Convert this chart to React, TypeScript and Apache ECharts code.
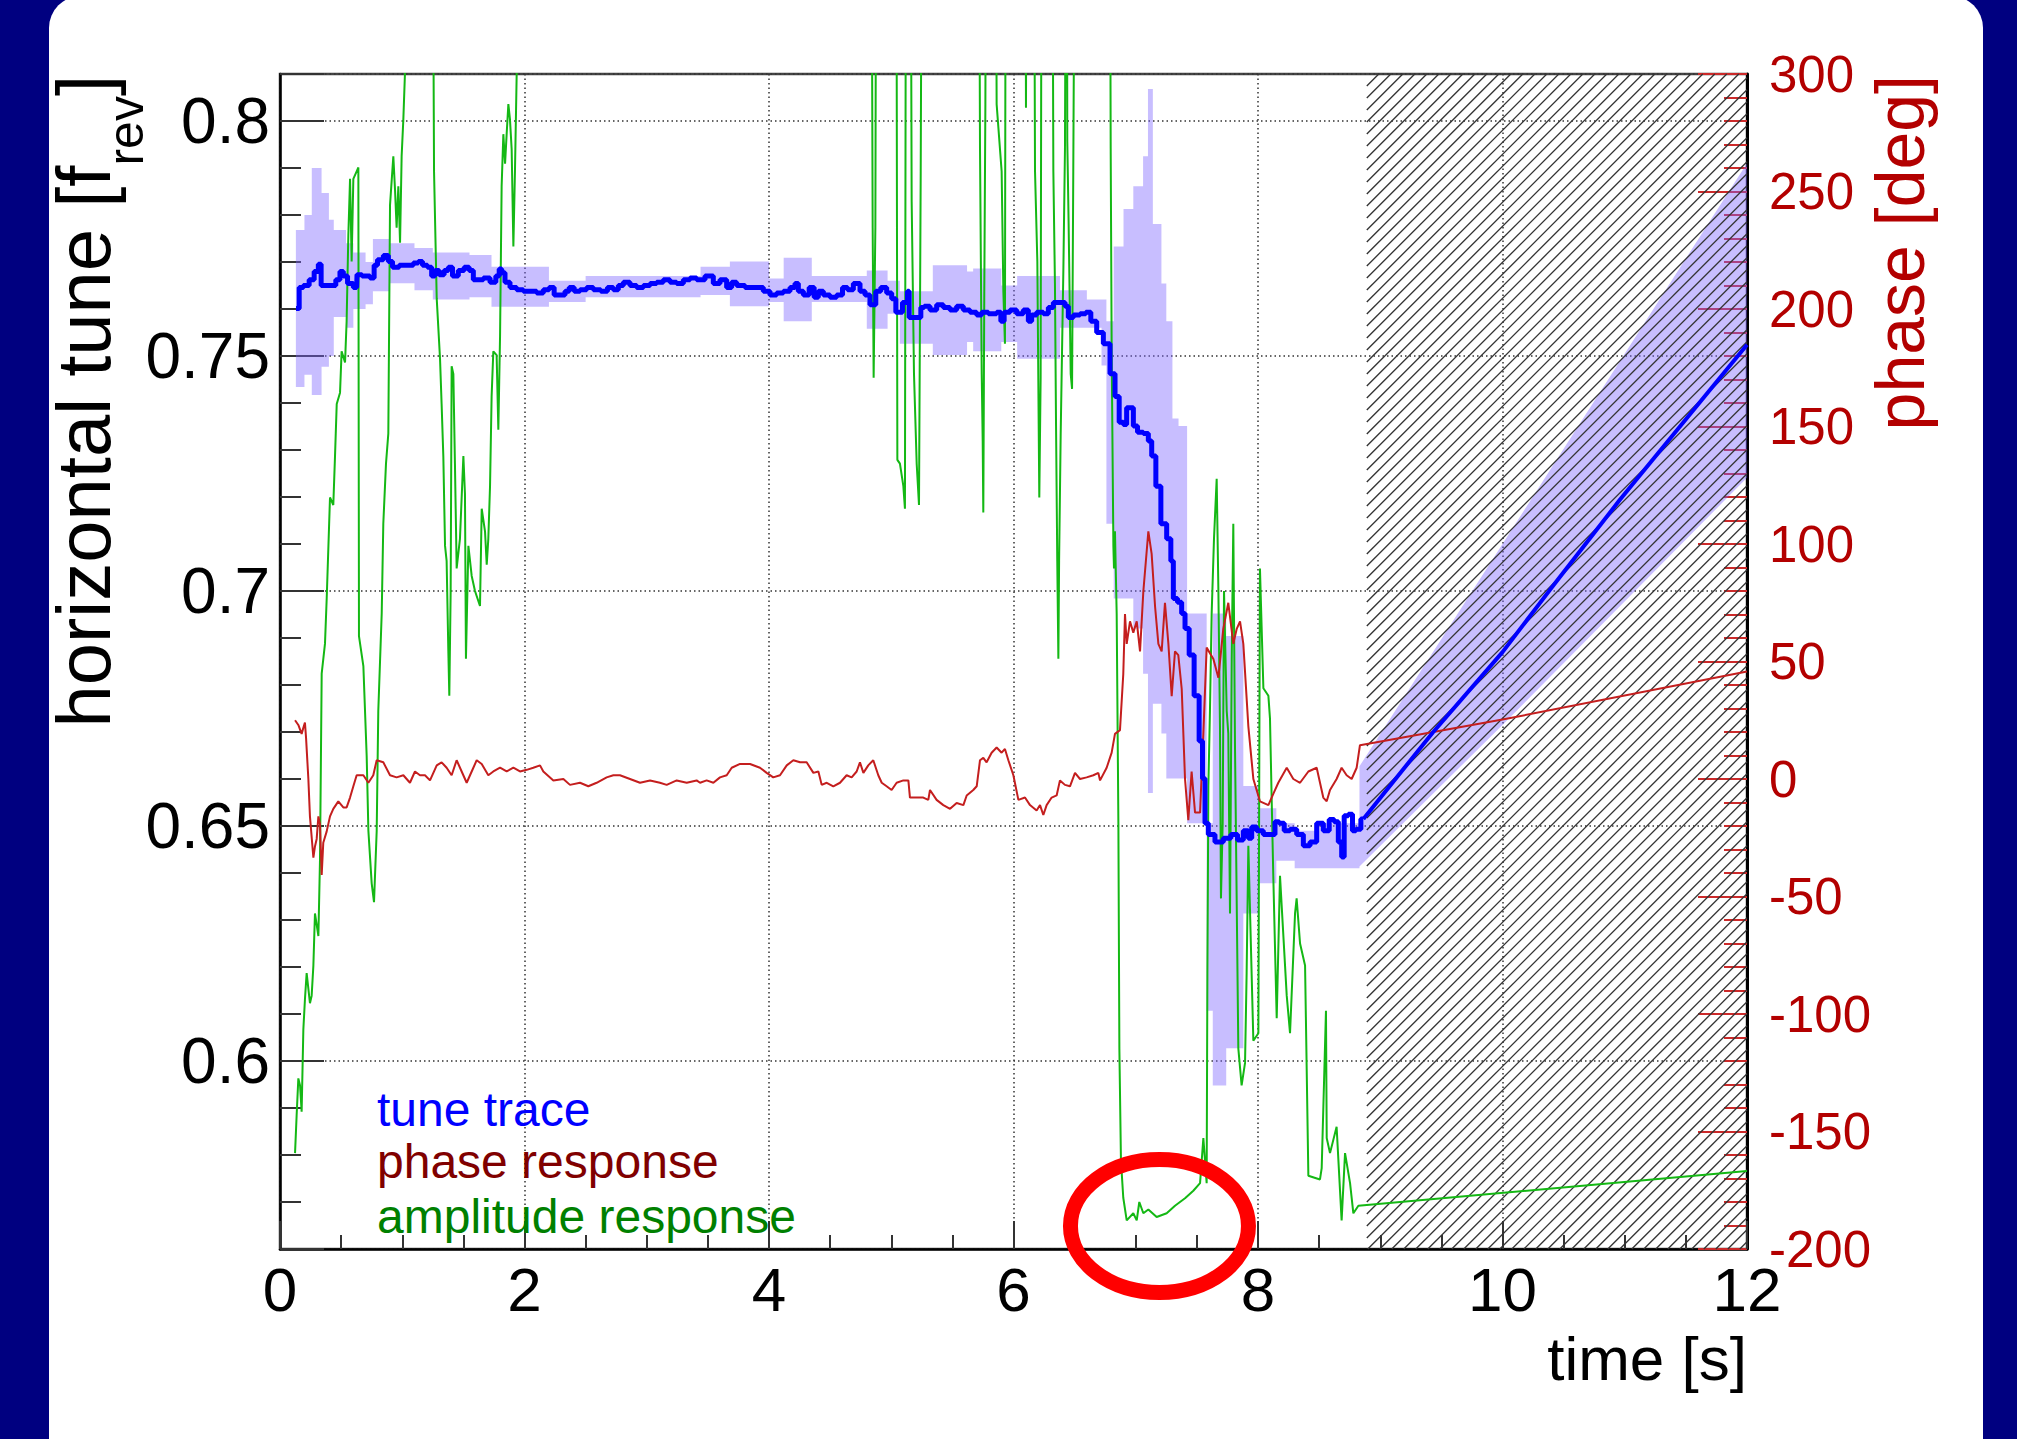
import React, { useEffect, useRef } from 'react';
import * as echarts from 'echarts';

const W = 2017;
const H = 1439;
const FONT = '"Liberation Sans", Arial, Helvetica, sans-serif';

// ---------------- data ----------------
// time [s], horizontal tune [f_rev] (measured)
const tuneTrace: [number, number][] = [
  [0.131, 0.7601], [0.150, 0.7601], [0.164, 0.7646], [0.218, 0.7650], [0.259, 0.7662], [0.300, 0.7680],
  [0.327, 0.7695], [0.346, 0.7650], [0.436, 0.7650], [0.477, 0.7662], [0.504, 0.7680], [0.532, 0.7670],
  [0.573, 0.7654], [0.627, 0.7646], [0.633, 0.7673], [0.709, 0.7670], [0.763, 0.7666], [0.777, 0.7693],
  [0.818, 0.7705], [0.873, 0.7714], [0.900, 0.7701], [0.941, 0.7689], [1.009, 0.7693], [1.063, 0.7693],
  [1.118, 0.7698], [1.145, 0.7701], [1.186, 0.7693], [1.227, 0.7689], [1.254, 0.7670], [1.282, 0.7682],
  [1.322, 0.7673], [1.363, 0.7682], [1.391, 0.7689], [1.431, 0.7670], [1.486, 0.7682], [1.527, 0.7689],
  [1.568, 0.7682], [1.595, 0.7662], [1.636, 0.7662], [1.691, 0.7666], [1.745, 0.7657], [1.786, 0.7670],
  [1.800, 0.7685], [1.827, 0.7677], [1.854, 0.7657], [1.909, 0.7646], [1.963, 0.7641], [2.018, 0.7638],
  [2.072, 0.7638], [2.127, 0.7634], [2.181, 0.7641], [2.222, 0.7646], [2.263, 0.7630], [2.318, 0.7630],
  [2.345, 0.7638], [2.386, 0.7646], [2.427, 0.7638], [2.481, 0.7641], [2.536, 0.7646], [2.590, 0.7641],
  [2.658, 0.7638], [2.699, 0.7646], [2.754, 0.7641], [2.781, 0.7650], [2.836, 0.7657], [2.890, 0.7650],
  [2.945, 0.7646], [3.000, 0.7650], [3.054, 0.7654], [3.108, 0.7657], [3.163, 0.7662], [3.217, 0.7657],
  [3.272, 0.7654], [3.327, 0.7662], [3.381, 0.7666], [3.436, 0.7662], [3.517, 0.7670], [3.572, 0.7654],
  [3.626, 0.7662], [3.681, 0.7646], [3.708, 0.7657], [3.763, 0.7650], [3.845, 0.7646], [3.926, 0.7646],
  [3.981, 0.7638], [4.035, 0.7630], [4.090, 0.7634], [4.145, 0.7638], [4.199, 0.7646], [4.226, 0.7654],
  [4.254, 0.7638], [4.308, 0.7630], [4.349, 0.7646], [4.390, 0.7625], [4.417, 0.7638], [4.472, 0.7630],
  [4.526, 0.7625], [4.581, 0.7630], [4.622, 0.7646], [4.663, 0.7641], [4.717, 0.7654], [4.772, 0.7638],
  [4.799, 0.7630], [4.853, 0.7609], [4.894, 0.7638], [4.935, 0.7646], [4.990, 0.7634], [5.017, 0.7622],
  [5.058, 0.7593], [5.126, 0.7614], [5.140, 0.7638], [5.153, 0.7582], [5.235, 0.7582], [5.249, 0.7603],
  [5.290, 0.7606], [5.344, 0.7598], [5.399, 0.7609], [5.453, 0.7603], [5.508, 0.7598], [5.562, 0.7606],
  [5.617, 0.7598], [5.671, 0.7593], [5.726, 0.7587], [5.753, 0.7593], [5.835, 0.7590], [5.890, 0.7593],
  [5.903, 0.7574], [5.944, 0.7593], [5.999, 0.7598], [6.053, 0.7590], [6.108, 0.7598], [6.135, 0.7574],
  [6.162, 0.7587], [6.217, 0.7593], [6.271, 0.7590], [6.299, 0.7603], [6.353, 0.7614], [6.408, 0.7614],
  [6.435, 0.7606], [6.462, 0.7582], [6.517, 0.7587], [6.571, 0.7590], [6.612, 0.7593], [6.653, 0.7574],
  [6.708, 0.7550], [6.762, 0.7526], [6.817, 0.7462], [6.844, 0.7414], [6.885, 0.7359], [6.912, 0.7354],
  [6.939, 0.7390], [6.967, 0.7390], [6.994, 0.7351], [7.035, 0.7338], [7.089, 0.7335], [7.117, 0.7319],
  [7.144, 0.7287], [7.185, 0.7223], [7.226, 0.7143], [7.280, 0.7111], [7.294, 0.7064], [7.321, 0.6984],
  [7.362, 0.6976], [7.389, 0.6952], [7.417, 0.6920], [7.457, 0.6864], [7.498, 0.6777], [7.539, 0.6681],
  [7.553, 0.6601], [7.580, 0.6506], [7.607, 0.6482], [7.689, 0.6466], [7.744, 0.6474], [7.812, 0.6482],
  [7.853, 0.6470], [7.907, 0.6490], [7.935, 0.6474], [7.962, 0.6498], [8.016, 0.6490], [8.071, 0.6482],
  [8.125, 0.6482], [8.153, 0.6509], [8.194, 0.6506], [8.235, 0.6490], [8.289, 0.6493], [8.344, 0.6482],
  [8.398, 0.6458], [8.453, 0.6466], [8.507, 0.6506], [8.562, 0.6490], [8.603, 0.6514], [8.643, 0.6509],
  [8.671, 0.6466], [8.698, 0.6434], [8.712, 0.6522], [8.766, 0.6525], [8.780, 0.6490], [8.821, 0.6493],
  [8.862, 0.6515],
];
// time [s], horizontal tune [f_rev] (extrapolated)
const tuneExtrapolated: [number, number][] = [
  [8.862, 0.6515], [9.430, 0.6699], [10.000, 0.6870], [10.390, 0.7003], [10.960, 0.7194], [12.000, 0.7524],
];

// tune uncertainty band: [time start, low, high] (each step lasts until the next time)
const tuneBandSteps: [number, number, number][] = [
  [0.13, 0.7434, 0.7768], [0.20, 0.7460, 0.7800], [0.26, 0.7417, 0.7900], [0.34, 0.7477, 0.7847],
  [0.40, 0.7500, 0.7790], [0.44, 0.7583, 0.7768], [0.54, 0.7560, 0.7740], [0.60, 0.7600, 0.7720],
  [0.70, 0.7610, 0.7700], [0.76, 0.7638, 0.7749], [0.90, 0.7655, 0.7740], [1.10, 0.7640, 0.7730],
  [1.25, 0.7620, 0.7720], [1.55, 0.7625, 0.7715], [1.73, 0.7605, 0.7690], [2.20, 0.7615, 0.7660],
  [2.50, 0.7625, 0.7670], [3.44, 0.7630, 0.7690], [3.68, 0.7606, 0.7701], [4.00, 0.7615, 0.7665],
  [4.12, 0.7574, 0.7709], [4.35, 0.7615, 0.7670], [4.80, 0.7558, 0.7682], [4.97, 0.7590, 0.7660],
  [5.07, 0.7526, 0.7638], [5.34, 0.7502, 0.7693], [5.62, 0.7530, 0.7680], [5.67, 0.7510, 0.7686],
  [5.90, 0.7530, 0.7650], [6.03, 0.7494, 0.7670], [6.38, 0.7560, 0.7640], [6.60, 0.7560, 0.7620],
  [6.72, 0.7480, 0.7620], [6.76, 0.7143, 0.7574], [6.82, 0.6984, 0.7733], [6.90, 0.6984, 0.7813],
  [6.98, 0.6920, 0.7861], [7.06, 0.6824, 0.7925], [7.10, 0.6570, 0.8068], [7.14, 0.6760, 0.7781],
  [7.21, 0.6697, 0.7654], [7.25, 0.6601, 0.7574], [7.30, 0.6601, 0.7367], [7.35, 0.6601, 0.7351],
  [7.42, 0.6506, 0.6952], [7.58, 0.6107, 0.6506], [7.63, 0.5948, 0.6952], [7.74, 0.6027, 0.6904],
  [7.88, 0.6314, 0.6585], [8.00, 0.6378, 0.6538], [8.15, 0.6426, 0.6506], [8.30, 0.6410, 0.6490],
  [8.50, 0.6410, 0.6506], [8.83, 0.6414, 0.6627],
];
// extrapolated band: [time, low, high]
const tuneBandExtrapolated: [number, number, number][] = [
  [8.83, 0.6414, 0.6627], [10.0, 0.6715, 0.7100], [12.0, 0.7241, 0.7910],
];

// time [s], phase [deg]
const phaseResponse: [number, number][] = [
  [0.123, 25.0], [0.150, 23.0], [0.177, 19.2], [0.191, 21.8], [0.204, 24.0], [0.213, 17.6], [0.232, 0.0],
  [0.245, -15.9], [0.273, -33.5], [0.286, -28.7], [0.300, -25.5], [0.314, -15.9], [0.327, -19.1],
  [0.341, -40.8], [0.354, -27.1], [0.382, -22.3], [0.409, -15.9], [0.436, -12.7], [0.477, -9.5],
  [0.518, -12.1], [0.545, -12.1], [0.573, -7.9], [0.600, -3.1], [0.627, 1.6], [0.682, 1.6], [0.723, -1.6],
  [0.763, 1.6], [0.791, 8.0], [0.845, 7.1], [0.900, 1.6], [0.954, 0.7], [1.009, 1.6], [1.063, -1.6],
  [1.104, 3.2], [1.145, 1.6], [1.186, 1.6], [1.227, -0.6], [1.282, 5.8], [1.322, 7.1], [1.363, 4.8],
  [1.404, 1.6], [1.445, 8.0], [1.486, 3.2], [1.527, -1.6], [1.568, 3.2], [1.609, 8.0], [1.650, 6.4],
  [1.704, 1.6], [1.745, 3.2], [1.800, 4.8], [1.854, 3.2], [1.909, 4.8], [1.963, 3.2], [2.018, 3.9],
  [2.072, 4.8], [2.127, 5.8], [2.154, 3.2], [2.236, -0.6], [2.318, 0.0], [2.372, -2.5], [2.454, -1.6],
  [2.522, -3.1], [2.590, -1.6], [2.672, 0.7], [2.727, 1.6], [2.781, 1.6], [2.863, 0.0], [2.945, -1.6],
  [3.027, -0.6], [3.108, -1.6], [3.163, -2.5], [3.245, -0.6], [3.327, -1.6], [3.408, -0.6], [3.436, -1.6],
  [3.490, -0.6], [3.545, -1.6], [3.599, 0.7], [3.654, 1.6], [3.695, 4.8], [3.763, 6.4], [3.845, 6.4],
  [3.926, 4.8], [3.981, 2.6], [4.035, 0.7], [4.090, 1.6], [4.145, 5.8], [4.199, 8.0], [4.254, 7.1],
  [4.308, 7.1], [4.363, 2.6], [4.404, 3.2], [4.431, -2.5], [4.472, -1.6], [4.526, -3.1], [4.581, -1.6],
  [4.635, 1.6], [4.676, 0.7], [4.717, 3.2], [4.744, 7.1], [4.772, 2.6], [4.812, 5.8], [4.853, 8.0],
  [4.894, 1.6], [4.922, -1.6], [4.962, -3.1], [5.003, -4.7], [5.044, -1.6], [5.099, -0.6], [5.140, -0.6],
  [5.153, -7.9], [5.208, -7.9], [5.262, -7.9], [5.303, -8.9], [5.317, -4.7], [5.371, -8.9], [5.426, -11.1],
  [5.481, -12.7], [5.535, -10.2], [5.590, -11.1], [5.617, -7.0], [5.671, -4.7], [5.699, -3.1], [5.726, 8.0],
  [5.753, 9.0], [5.780, 7.1], [5.821, 11.2], [5.862, 13.4], [5.903, 11.2], [5.930, 12.8], [5.958, 8.0],
  [5.999, 1.6], [6.040, -8.9], [6.094, -7.9], [6.135, -11.1], [6.189, -13.4], [6.217, -11.1],
  [6.244, -15.3], [6.271, -11.1], [6.312, -7.9], [6.353, -7.0], [6.380, -0.6], [6.421, -2.5],
  [6.462, -3.1], [6.503, 2.6], [6.544, 0.0], [6.598, 0.7], [6.653, 1.6], [6.694, 2.6], [6.708, -0.6],
  [6.762, 4.8], [6.803, 11.2], [6.830, 19.2], [6.871, 20.8], [6.898, 44.7], [6.912, 70.2], [6.926, 57.5],
  [6.953, 67.1], [6.980, 62.3], [7.008, 67.1], [7.035, 54.3], [7.062, 79.8], [7.103, 105.4], [7.130, 95.8],
  [7.158, 73.4], [7.185, 57.5], [7.212, 54.3], [7.239, 75.0], [7.267, 57.5], [7.294, 35.2], [7.321, 54.3],
  [7.348, 52.7], [7.376, 38.3], [7.403, 0.0], [7.430, -17.5], [7.457, 3.2], [7.485, -14.3], [7.526, -14.3],
  [7.553, 19.2], [7.580, 55.9], [7.635, 51.1], [7.676, 43.1], [7.716, 63.9], [7.757, 75.0], [7.798, 57.5],
  [7.826, 63.9], [7.853, 67.1], [7.880, 57.5], [7.921, 22.4], [7.962, 0.0], [8.016, -9.5], [8.085, -11.1],
  [8.125, -6.3], [8.166, -1.6], [8.235, 4.8], [8.289, 0.0], [8.344, -1.6], [8.412, 3.2], [8.480, 4.8],
  [8.534, -7.9], [8.562, -9.5], [8.589, -4.7], [8.643, 0.0], [8.684, 4.8], [8.725, 1.6], [8.766, 0.0],
  [8.807, 4.8], [8.834, 14.4], [10.0, 25.3], [12.0, 45.7],
];

// time [s], amplitude response (drawn in tune-axis units; 0.90 = off scale above the frame)
const amplitudeResponse: [number, number][] = [
  [0.123, 0.5804], [0.136, 0.5884], [0.150, 0.5963], [0.164, 0.5948], [0.177, 0.5892], [0.191, 0.6067],
  [0.204, 0.6131], [0.218, 0.6187], [0.245, 0.6123], [0.259, 0.6139], [0.273, 0.6203], [0.286, 0.6314],
  [0.314, 0.6266], [0.327, 0.6426], [0.341, 0.6824], [0.368, 0.6888], [0.382, 0.6984], [0.409, 0.7199],
  [0.436, 0.7183], [0.450, 0.7287], [0.464, 0.7398], [0.491, 0.7422], [0.504, 0.7510], [0.532, 0.7486],
  [0.545, 0.7574], [0.559, 0.7757], [0.573, 0.7877], [0.586, 0.7701], [0.600, 0.7877], [0.627, 0.7893],
  [0.641, 0.7901], [0.646, 0.6904], [0.682, 0.6840], [0.709, 0.6649], [0.723, 0.6490], [0.750, 0.6378],
  [0.769, 0.6338], [0.791, 0.6490], [0.804, 0.6745], [0.832, 0.6952], [0.845, 0.7143], [0.867, 0.7271],
  [0.886, 0.7335], [0.900, 0.7821], [0.927, 0.7925], [0.941, 0.7853], [0.954, 0.7773], [0.968, 0.7861],
  [0.982, 0.7741], [0.995, 0.7925], [1.009, 0.8004], [1.022, 0.8100], [1.036, 0.90], [1.241, 0.90],
  [1.260, 0.7893], [1.282, 0.7622], [1.309, 0.7494], [1.322, 0.7398], [1.336, 0.7287], [1.350, 0.7096],
  [1.363, 0.7064], [1.377, 0.6872], [1.385, 0.6777], [1.396, 0.6999], [1.404, 0.7478], [1.418, 0.7462],
  [1.431, 0.7271], [1.445, 0.7048], [1.472, 0.7111], [1.500, 0.7287], [1.513, 0.7207], [1.521, 0.6856],
  [1.541, 0.7096], [1.568, 0.7032], [1.595, 0.7000], [1.636, 0.6968], [1.650, 0.7175], [1.677, 0.7127],
  [1.691, 0.7056], [1.704, 0.7111], [1.718, 0.7223], [1.731, 0.7414], [1.745, 0.7510], [1.772, 0.7502],
  [1.786, 0.7343], [1.800, 0.7542], [1.813, 0.7861], [1.827, 0.7972], [1.841, 0.7909], [1.854, 0.7972],
  [1.868, 0.8036], [1.881, 0.8004], [1.895, 0.7940], [1.909, 0.7733], [1.922, 0.7893], [1.936, 0.8100],
  [1.950, 0.90], [4.832, 0.90], [4.848, 0.7773], [4.856, 0.7454], [4.870, 0.7773], [4.881, 0.90],
  [5.039, 0.90], [5.050, 0.7279], [5.071, 0.7271], [5.099, 0.7223], [5.112, 0.7175], [5.123, 0.90],
  [5.153, 0.90], [5.167, 0.7829], [5.186, 0.7462], [5.208, 0.7271], [5.227, 0.7183], [5.241, 0.7893],
  [5.257, 0.90], [5.712, 0.90], [5.726, 0.7941], [5.740, 0.7462], [5.748, 0.7319], [5.753, 0.7167],
  [5.761, 0.7638], [5.770, 0.8036], [5.780, 0.90], [5.849, 0.90], [5.862, 0.8036], [5.903, 0.7893],
  [5.917, 0.7638], [5.930, 0.7526], [5.939, 0.90], [6.094, 0.90], [6.102, 0.8028], [6.113, 0.90],
  [6.162, 0.90], [6.176, 0.7893], [6.195, 0.7701], [6.211, 0.7199], [6.222, 0.7454], [6.233, 0.90],
  [6.312, 0.90], [6.326, 0.7893], [6.339, 0.7654], [6.348, 0.7351], [6.358, 0.7064], [6.367, 0.6856],
  [6.373, 0.7064], [6.386, 0.7335], [6.408, 0.7685], [6.421, 0.7940], [6.435, 0.90], [6.440, 0.7957],
  [6.451, 0.7781], [6.468, 0.7462], [6.479, 0.7430], [6.489, 0.7893], [6.511, 0.90], [6.784, 0.90],
  [6.795, 0.7941], [6.803, 0.7510], [6.817, 0.7096], [6.822, 0.7048], [6.830, 0.7127], [6.844, 0.6952],
  [6.858, 0.6506], [6.866, 0.6027], [6.879, 0.5788], [6.898, 0.5709], [6.926, 0.5661], [6.980, 0.5676],
  [7.008, 0.5661], [7.029, 0.5700], [7.062, 0.5676], [7.103, 0.5684], [7.171, 0.5668], [7.253, 0.5676],
  [7.321, 0.5692], [7.403, 0.5708], [7.471, 0.5724], [7.526, 0.5740], [7.553, 0.5836], [7.580, 0.5740],
  [7.586, 0.6187], [7.594, 0.6585], [7.607, 0.6745], [7.621, 0.6952], [7.640, 0.7111], [7.662, 0.7239],
  [7.676, 0.7000], [7.689, 0.6713], [7.697, 0.6346], [7.711, 0.6506], [7.722, 0.7000], [7.744, 0.6745],
  [7.757, 0.6697], [7.771, 0.6314], [7.785, 0.6856], [7.798, 0.7143], [7.812, 0.6665], [7.839, 0.6027],
  [7.866, 0.5948], [7.894, 0.5996], [7.907, 0.6187], [7.921, 0.6458], [7.962, 0.6043], [8.003, 0.6059],
  [8.016, 0.7048], [8.044, 0.6793], [8.085, 0.6777], [8.098, 0.6729], [8.125, 0.6394], [8.153, 0.6091],
  [8.180, 0.6394], [8.235, 0.6139], [8.262, 0.6059], [8.303, 0.6314], [8.316, 0.6346], [8.344, 0.6250],
  [8.385, 0.6203], [8.412, 0.5756], [8.507, 0.5748], [8.521, 0.5772], [8.556, 0.6107], [8.562, 0.5836],
  [8.589, 0.5804], [8.643, 0.5860], [8.684, 0.5661], [8.712, 0.5804], [8.753, 0.5740], [8.780, 0.5676],
  [8.821, 0.5692], [12.0, 0.5766],
];

const hatchedSpan: [number, number] = [8.89, 12];
const markedPoint: [number, number] = [7.194, 0.5649];

const legendLabels = ['tune trace', 'phase response', 'amplitude response'];
const legendColors = ['#0000ff', '#800000', '#008000'];

const X_MIN = 0, X_MAX = 12, X_STEP = 2;
const TUNE_MIN = 0.56, TUNE_MAX = 0.81;
const PHASE_MIN = -200, PHASE_MAX = 300, PHASE_STEP = 50;

// ---------------- layout ----------------
const GRID = { left: 280, top: 74, right: W - 1747, bottom: H - 1249 };
const PHASE_RED = '#b30000';
const BAND_FILL = 'rgba(125, 100, 255, 0.42)';
const DOTTED = { color: '#333', width: 1.5, type: [1.5, 3] as number[] };

function measure(text: string, size: number): number {
  const c = document.createElement('canvas').getContext('2d');
  if (!c) return text.length * size * 0.5;
  c.font = `${size}px "Liberation Sans", Arial, sans-serif`;
  return c.measureText(text).width;
}

export default function App() {
  const ref = useRef<HTMLDivElement>(null);

  useEffect(() => {
    const el = ref.current;
    if (!el) return;
    const chart = echarts.init(el, undefined, { renderer: 'svg', width: W, height: H });

    // left title pieces (rotated, reading bottom to top)
    const mainSize = 76, subSize = 50;
    const mainTxt = 'horizontal tune [f', subTxt = 'rev', brTxt = ']';
    const wMain = measure(mainTxt, mainSize);
    const wSub = measure(subTxt, subSize);
    const wBr = measure(brTxt, mainSize);
    const titleTop = 75;
    const startY = titleTop + wMain + wSub + wBr;
    const K = 0.3465; // central-baseline offset (em)
    const mainX = 110 - K * mainSize;
    const subX = 143 - K * subSize;

    const txt = (id: string, text: string, x: number, y: number, size: number, fill: string,
      align: string, rot = 0) => ({
      id, type: 'text', x, y, rotation: rot, z: 50, silent: true,
      style: { text, fill, fontSize: size, fontFamily: FONT, align, verticalAlign: 'middle' },
    });

    const graphics: any[] = [
      txt('t-main', mainTxt, mainX, startY, mainSize, '#000', 'left', Math.PI / 2),
      txt('t-sub', subTxt, subX, startY - wMain, subSize, '#000', 'left', Math.PI / 2),
      txt('t-br', brTxt, mainX, startY - wMain - wSub, mainSize, '#000', 'left', Math.PI / 2),
      txt('t-phase', 'phase [deg]', 1924 - K * 68, 75, 68, PHASE_RED, 'right', Math.PI / 2),
      txt('t-time', 'time [s]', 1747, 1380 - K * 62, 62, '#000', 'right'),
    ];
    const legendBase = [1126, 1178, 1233];
    legendLabels.forEach((l, i) => {
      graphics.push(txt('lg' + i, l, 377, legendBase[i] - K * 48, 48, legendColors[i], 'left'));
    });

    const option: any = {
      animation: false,
      grid: { ...GRID, show: true, borderColor: '#444', borderWidth: 2.5, backgroundColor: 'transparent' },
      xAxis: {
        type: 'value', min: X_MIN, max: X_MAX, interval: X_STEP,
        axisLine: { show: true, onZero: false, lineStyle: { color: '#000', width: 2.5 } },
        axisTick: { show: true, inside: true, length: 28, lineStyle: { color: '#333', width: 2 } },
        minorTick: { show: true, splitNumber: 4, length: 14, lineStyle: { color: '#333', width: 2 } },
        axisLabel: { margin: 9, fontSize: 62, color: '#000', fontFamily: FONT },
        splitLine: { show: true, lineStyle: DOTTED },
      },
      yAxis: [
        {
          type: 'value', min: TUNE_MIN, max: TUNE_MAX, position: 'left',
          axisLine: { show: true, onZero: false, lineStyle: { color: '#000', width: 2.5 } },
          axisTick: { show: true, inside: true, length: 44, lineStyle: { color: '#333', width: 2 } },
          minorTick: { show: true, splitNumber: 5, length: 21, lineStyle: { color: '#333', width: 2 } },
          axisLabel: {
            margin: 10, fontSize: 64, color: '#000', fontFamily: FONT,
            showMinLabel: false, showMaxLabel: false, padding: [14, 0, 0, 0],
          },
          splitLine: { show: true, lineStyle: DOTTED },
        },
        {
          type: 'value', min: PHASE_MIN, max: PHASE_MAX, interval: PHASE_STEP, position: 'right',
          axisLine: { show: true, onZero: false, lineStyle: { color: '#000', width: 3 } },
          axisTick: { show: true, inside: true, length: 49, lineStyle: { color: '#cc2a2a', width: 2 } },
          minorTick: { show: true, splitNumber: 5, length: 23, lineStyle: { color: '#cc2a2a', width: 2 } },
          axisLabel: { margin: 22, fontSize: 51, color: PHASE_RED, fontFamily: FONT, padding: [10, 0, 0, 0] },
          splitLine: { show: false },
        },
      ],
      graphic: graphics,
      series: [
        {
          type: 'custom', name: 'tune band', xAxisIndex: 0, yAxisIndex: 0, z: 1, silent: true,
          data: [[0]],
          renderItem: (_p: any, api: any) => {
            const up: number[][] = [];
            const lo: number[][] = [];
            for (let i = 0; i < tuneBandSteps.length - 1; i++) {
              const [t0, l, h] = tuneBandSteps[i];
              const t1 = tuneBandSteps[i + 1][0];
              up.push(api.coord([t0, h]), api.coord([t1, h]));
              lo.push(api.coord([t0, l]), api.coord([t1, l]));
            }
            tuneBandExtrapolated.forEach(([t, l, h]) => {
              up.push(api.coord([t, h]));
              lo.push(api.coord([t, l]));
            });
            return {
              type: 'polygon',
              shape: { points: up.concat(lo.reverse()) },
              style: { fill: BAND_FILL },
            };
          },
        },
        {
          type: 'custom', name: 'hatch', xAxisIndex: 0, yAxisIndex: 0, z: 2, silent: true,
          data: [hatchedSpan],
          encode: { x: [0, 1] },
          renderItem: (params: any, api: any) => {
            const cs = params.coordSys;
            const x0 = api.coord([api.value(0), TUNE_MIN])[0];
            const x1 = api.coord([api.value(1), TUNE_MIN])[0];
            const y0 = cs.y, y1 = cs.y + cs.height;
            const s = 12;
            const children: any[] = [];
            for (let c = x0 + y0; c <= x1 + y1; c += s) {
              const xa = Math.max(x0, c - y1);
              const xb = Math.min(x1, c - y0);
              if (xb > xa) {
                children.push({
                  type: 'line',
                  shape: { x1: xa, y1: c - xa, x2: xb, y2: c - xb },
                  style: { stroke: '#333', lineWidth: 1.3 },
                });
              }
            }
            return { type: 'group', children };
          },
        },
        {
          type: 'line', name: 'amplitude response', xAxisIndex: 0, yAxisIndex: 0, z: 3,
          data: amplitudeResponse, showSymbol: false, symbol: 'none', clip: true,
          lineStyle: { color: '#14b814', width: 2 },
        },
        {
          type: 'line', name: 'phase response', xAxisIndex: 0, yAxisIndex: 1, z: 4,
          data: phaseResponse, showSymbol: false, symbol: 'none', clip: true,
          lineStyle: { color: '#c41e1e', width: 2 },
        },
        {
          type: 'line', name: 'tune trace', xAxisIndex: 0, yAxisIndex: 0, z: 5,
          data: tuneTrace, showSymbol: false, symbol: 'none', clip: true, step: 'middle',
          lineStyle: { color: '#0000ff', width: 5 },
        },
        {
          type: 'line', name: 'tune trace (extrapolated)', xAxisIndex: 0, yAxisIndex: 0, z: 5,
          data: tuneExtrapolated, showSymbol: false, symbol: 'none', clip: true,
          lineStyle: { color: '#0000ff', width: 4 },
        },
      ],
    };

    chart.setOption(option);

    const c = chart.convertToPixel({ xAxisIndex: 0, yAxisIndex: 0 }, markedPoint) as number[];
    if (c && isFinite(c[0])) {
      chart.setOption({
        graphic: [{
          id: 'mark-ring', type: 'ellipse', z: 60, silent: true,
          shape: { cx: c[0], cy: c[1], rx: 89, ry: 66.5 },
          style: { fill: 'none', stroke: '#ff0000', lineWidth: 15 },
        }],
      });
    }

    return () => chart.dispose();
  }, []);

  return (
    <div style={{ position: 'fixed', left: 0, top: 0, width: W, height: H, background: '#000080', overflow: 'hidden' }}>
      <div style={{ position: 'absolute', left: 49, top: -4, width: 1934, height: 1500, background: '#ffffff', borderRadius: 32 }} />
      <div ref={ref} style={{ position: 'absolute', left: 0, top: 0, width: W, height: H }} />
    </div>
  );
}
